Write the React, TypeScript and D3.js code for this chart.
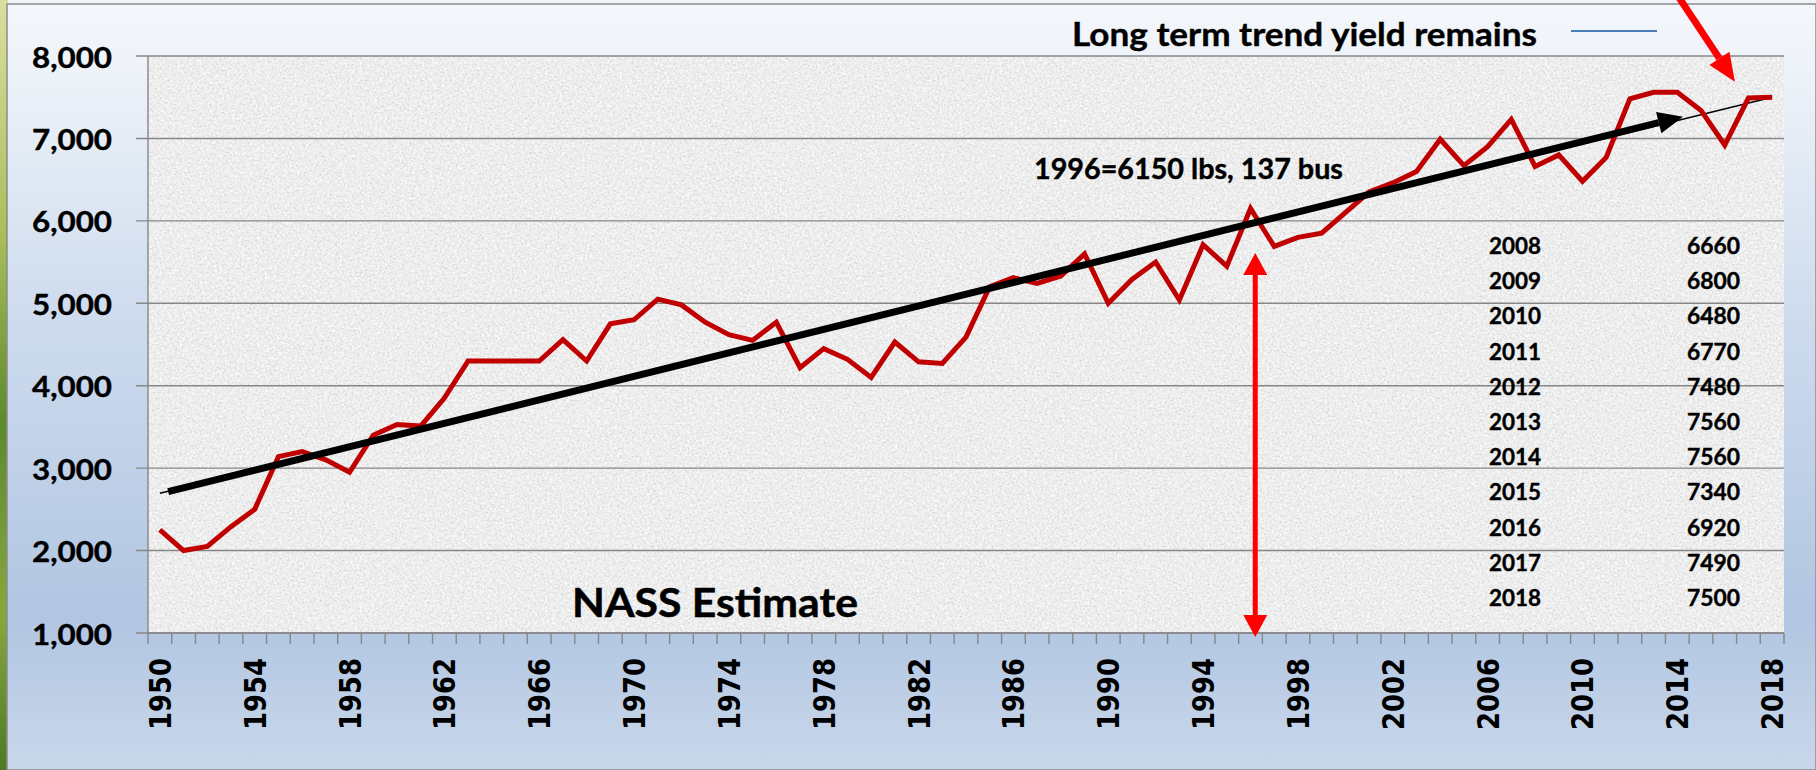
import React from "react";
import * as d3 from "d3";

const W = 1816;
const H = 770;

// Categories and series
const startYear = 1950;
const yields = [
  2250, 2000, 2050, 2290, 2500, 3140, 3200, 3100, 2950, 3400,
  3530, 3510, 3850, 4300, 4300, 4300, 4300, 4560, 4300, 4750,
  4800, 5050, 4980, 4770, 4620, 4550, 4770, 4220, 4450, 4320,
  4100, 4530, 4290, 4270, 4590, 5200, 5310, 5240, 5330, 5600,
  5000, 5290, 5500, 5040, 5710, 5450, 6150, 5690, 5800, 5850,
  6100, 6350, 6460, 6600, 6990, 6670, 6900, 7230, 6660, 6800,
  6480, 6770, 7480, 7560, 7560, 7340, 6920, 7490, 7500,
];
const years = yields.map((_, i) => startYear + i);
const yTicks = [1000, 2000, 3000, 4000, 5000, 6000, 7000, 8000];
const xLabelYears = years.filter((y) => (y - startYear) % 4 === 0);

// Table in the chart
const tableYears = [2008, 2009, 2010, 2011, 2012, 2013, 2014, 2015, 2016, 2017, 2018];
const tableValues = [6660, 6800, 6480, 6770, 7480, 7560, 7560, 7340, 6920, 7490, 7500];

// Linear trend (Excel trendline) endpoints
const trendYears = [1950, 2018];
const trendValues = [2695, 7499];
// Thick black arrow drawn over the trend
const blackArrowYears = [1950.35, 2014.24];
const blackArrowValues = [2714, 7264];
// Red double arrow at 1996
const redArrowYear = 1996.2;
const redArrowValues = [5610, 950];
// Red pointer arrow at top right
const pointerYears = [2014.0, 2016.43];
const pointerValues = [8740, 7688];

const titleText = "Long term trend yield remains";
const noteText = "1996=6150 lbs, 137 bus";
const nassText = "NASS Estimate";

const plotL = 148;
const plotR = 1784;
const plotT = 56;
const plotB = 633;

function arrowHead(x1: number, y1: number, x2: number, y2: number, len: number, half: number) {
  const dx = x2 - x1;
  const dy = y2 - y1;
  const d = Math.hypot(dx, dy);
  const ux = dx / d;
  const uy = dy / d;
  const bx = x2 - ux * len;
  const by = y2 - uy * len;
  const px = -uy;
  const py = ux;
  return {
    pts: `${x2},${y2} ${bx + px * half},${by + py * half} ${bx - px * half},${by - py * half}`,
    bx,
    by,
  };
}

const labelFont = "Lato, 'Open Sans', sans-serif";

export default function App() {
  const x = d3.scaleBand<number>().domain(years).range([plotL, plotR]).padding(0);
  const bw = x.bandwidth();
  const cx = (yr: number) => (x(yr) as number) + bw / 2;
  const xl = d3
    .scaleLinear()
    .domain([startYear, years[years.length - 1]])
    .range([cx(startYear), cx(years[years.length - 1])]);
  const y = d3.scaleLinear().domain([1000, 8000]).range([plotB, plotT]);

  const line = d3
    .line<number>()
    .x((_, i) => cx(years[i]))
    .y((d) => y(d));

  const bx1 = xl(blackArrowYears[0]);
  const by1 = y(blackArrowValues[0]);
  const bx2 = xl(blackArrowYears[1]);
  const by2 = y(blackArrowValues[1]);
  const bHead = arrowHead(bx1, by1, bx2, by2, 25, 11);

  const rx = xl(redArrowYear);
  const rTop = y(redArrowValues[0]);
  const rBot = y(redArrowValues[1]);
  const rHeadTop = arrowHead(rx, rBot, rx, rTop, 22, 12);
  const rHeadBot = arrowHead(rx, rTop, rx, rBot, 22, 12);

  const px1 = xl(pointerYears[0]);
  const py1 = y(pointerValues[0]);
  const px2 = xl(pointerYears[1]);
  const py2 = y(pointerValues[1]);
  const pHead = arrowHead(px1, py1, px2, py2, 28, 12);

  const tickXs = d3.range(years.length + 1).map((i) => plotL + i * bw);

  return (
    <svg
      width={W}
      height={H}
      style={{ position: "absolute", left: 0, top: 0, display: "block" }}
      xmlns="http://www.w3.org/2000/svg"
    >
      <defs>
        <linearGradient id="bg" x1="0" y1="0" x2="0" y2="1">
          <stop offset="0" stopColor="#f4f7fb" />
          <stop offset="0.08" stopColor="#eef3f9" />
          <stop offset="0.4" stopColor="#cfdcee" />
          <stop offset="0.8" stopColor="#b1c6e2" />
          <stop offset="1" stopColor="#c9d7ea" />
        </linearGradient>
        <linearGradient id="green" x1="0" y1="0" x2="0" y2="1">
          <stop offset="0" stopColor="#d9dfa0" />
          <stop offset="0.3" stopColor="#a9bf5a" />
          <stop offset="0.55" stopColor="#5d8a2e" />
          <stop offset="0.8" stopColor="#86a83e" />
          <stop offset="1" stopColor="#4e7a26" />
        </linearGradient>
        <filter id="noise" x="0" y="0" width="100%" height="100%">
          <feTurbulence type="fractalNoise" baseFrequency="0.5" numOctaves="3" seed="7" />
          <feColorMatrix
            type="matrix"
            values="0 0 0 0 0.55  0 0 0 0 0.55  0 0 0 0 0.55  -3.2 0 0 0 1.75"
          />
        </filter>
        <filter id="noise2" x="0" y="0" width="100%" height="100%">
          <feTurbulence type="fractalNoise" baseFrequency="0.4" numOctaves="2" seed="19" />
          <feColorMatrix
            type="matrix"
            values="0 0 0 0 1  0 0 0 0 1  0 0 0 0 1  3.0 0 0 0 -1.35"
          />
        </filter>
      </defs>

      {/* slide background */}
      <rect x={0} y={0} width={W} height={H} fill="#eef3f9" />
      <rect x={0} y={0} width={8} height={H} fill="url(#green)" />
      <rect x={7} y={4} width={W - 7} height={H - 4} fill="url(#bg)" stroke="#8c8c8c" strokeWidth={1.5} />

      {/* plot area with texture */}
      <rect x={plotL} y={plotT} width={plotR - plotL} height={plotB - plotT} fill="#eeeeee" />
      <rect x={plotL} y={plotT} width={plotR - plotL} height={plotB - plotT} filter="url(#noise)" opacity={0.5} />
      <rect x={plotL} y={plotT} width={plotR - plotL} height={plotB - plotT} filter="url(#noise2)" opacity={0.8} />

      {/* gridlines */}
      {yTicks.map((t) => (
        <line key={t} x1={plotL - 12} x2={plotR} y1={y(t)} y2={y(t)} stroke="#878787" strokeWidth={1.4} />
      ))}
      <line x1={plotL} x2={plotL} y1={plotT} y2={plotB} stroke="#878787" strokeWidth={1.4} />
      <line x1={plotL} x2={plotR} y1={plotB} y2={plotB} stroke="#878787" strokeWidth={1.4} />
      {tickXs.map((tx, i) => (
        <line key={i} x1={tx} x2={tx} y1={plotB} y2={plotB + 11} stroke="#878787" strokeWidth={1.4} />
      ))}

      {/* y labels */}
      {yTicks.map((t) => (
        <text
          key={t}
          x={112}
          y={y(t)}
          textAnchor="end"
          dominantBaseline="central"
          fontFamily={labelFont}
          fontWeight={700}
          fontSize={29}
          textLength={80}
          lengthAdjust="spacingAndGlyphs"
          fill="#000"
          stroke="#000"
          strokeWidth={0.4}
        >
          {d3.format(",")(t)}
        </text>
      ))}

      {/* x labels */}
      {xLabelYears.map((yr) => (
        <text
          key={yr}
          transform={`translate(${cx(yr)},${plotB + 25}) rotate(-90)`}
          textAnchor="end"
          dominantBaseline="central"
          fontFamily="'DejaVu Sans', Verdana, sans-serif"
          fontWeight={700}
          fontSize={31}
          textLength={72}
          lengthAdjust="spacingAndGlyphs"
          fill="#000"
        >
          {yr}
        </text>
      ))}

      {/* thin trendline */}
      <line
        x1={xl(trendYears[0])}
        y1={y(trendValues[0])}
        x2={xl(trendYears[1])}
        y2={y(trendValues[1])}
        stroke="#000"
        strokeWidth={1.5}
      />

      {/* data line */}
      <path d={line(yields) || ""} fill="none" stroke="#c00000" strokeWidth={5} strokeLinejoin="miter" />

      {/* thick black arrow */}
      <line x1={bx1} y1={by1} x2={bHead.bx} y2={bHead.by} stroke="#000" strokeWidth={7} />
      <polygon points={bHead.pts} fill="#000" />

      {/* red double arrow */}
      <line x1={rx} x2={rx} y1={rHeadTop.by} y2={rHeadBot.by} stroke="#ff0000" strokeWidth={5} />
      <polygon points={rHeadTop.pts} fill="#ff0000" />
      <polygon points={rHeadBot.pts} fill="#ff0000" />

      {/* pointer arrow */}
      <line x1={px1} y1={py1} x2={pHead.bx} y2={pHead.by} stroke="#ff0000" strokeWidth={7} />
      <polygon points={pHead.pts} fill="#ff0000" />

      {/* title / legend */}
      <text
        x={1072}
        y={46}
        fontFamily={labelFont}
        fontWeight={700}
        fontSize={33}
        textLength={465}
        lengthAdjust="spacingAndGlyphs"
        fill="#000"
        stroke="#000"
        strokeWidth={0.4}
      >
        {titleText}
      </text>
      <line x1={1571} x2={1657} y1={31} y2={31} stroke="#4a7ebb" strokeWidth={1.8} />

      {/* note */}
      <text
        x={1034}
        y={179}
        fontFamily={labelFont}
        fontWeight={700}
        fontSize={28}
        textLength={309}
        lengthAdjust="spacingAndGlyphs"
        fill="#000"
        stroke="#000"
        strokeWidth={0.4}
      >
        {noteText}
      </text>

      {/* NASS */}
      <text
        x={572}
        y={617}
        fontFamily={labelFont}
        fontWeight={700}
        fontSize={40}
        textLength={286}
        lengthAdjust="spacingAndGlyphs"
        fill="#000"
        stroke="#000"
        strokeWidth={0.5}
      >
        {nassText}
      </text>

      {/* table */}
      {tableYears.map((yr, i) => (
        <g key={yr}>
          <text
            x={1489}
            y={245 + i * 35.2}
            dominantBaseline="central"
            fontFamily={labelFont}
            fontWeight={700}
            fontSize={23}
            textLength={52}
            lengthAdjust="spacingAndGlyphs"
            fill="#000"
            stroke="#000"
            strokeWidth={0.4}
          >
            {yr}
          </text>
          <text
            x={1687}
            y={245 + i * 35.2}
            dominantBaseline="central"
            fontFamily={labelFont}
            fontWeight={700}
            fontSize={23}
            textLength={53}
            lengthAdjust="spacingAndGlyphs"
            fill="#000"
            stroke="#000"
            strokeWidth={0.4}
          >
            {tableValues[i]}
          </text>
        </g>
      ))}
    </svg>
  );
}
